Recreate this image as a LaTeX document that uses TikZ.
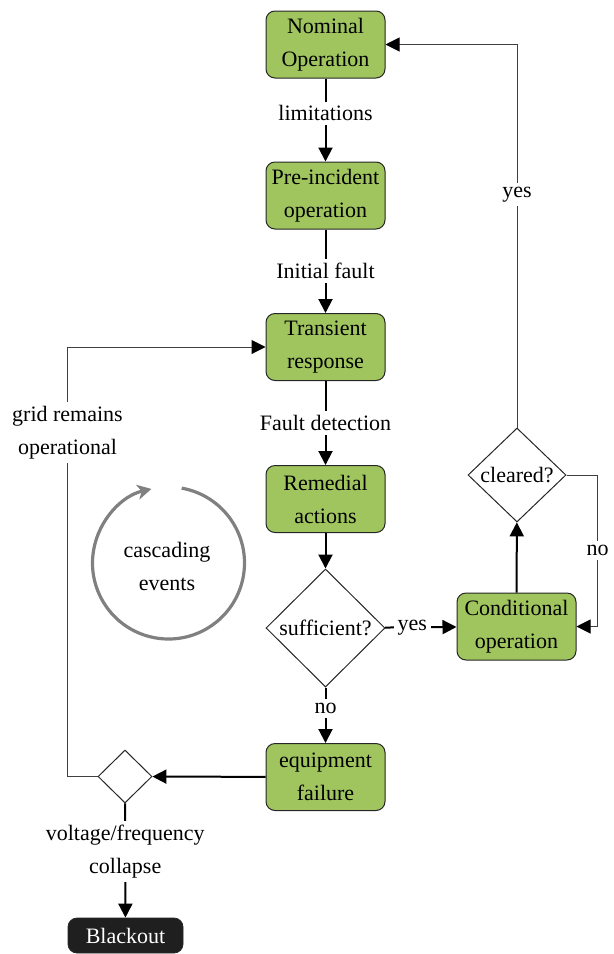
\documentclass[tikz,border=0pt]{standalone}
\usepackage{fontspec}
\setmainfont{LiberationSerif}[Extension=.ttf,UprightFont=*-Regular,BoldFont=*-Bold]
\usetikzlibrary{shapes.geometric,arrows.meta}
\definecolor{boxgreen}{RGB}{160,197,95}
\begin{document}
\begin{tikzpicture}[x=0.5pt,y=0.5pt,
  every node/.style={font=\rmfamily\fontsize{11}{16.5}\selectfont},
  stepbox/.style={draw=black!85,line width=0.5pt,rounded corners=4.5pt,fill=boxgreen,
    minimum width=59.5pt,minimum height=33.5pt,align=center,inner sep=1pt},
  decide/.style={draw=black!85,line width=0.5pt,diamond,shape aspect=1,inner sep=0pt,align=center},
  main/.style={line width=1pt,-{Triangle[length=7pt,width=7pt]}},
  back/.style={line width=0.5pt,draw=black!75,-{Triangle[length=7pt,width=7pt,color=black]}},
  lbl/.style={fill=white,inner sep=2pt,align=center}]
\useasboundingbox (0,0) rectangle (614,-954);
% boxes
\node[stepbox] (nom) at (325.5,-44.5) {Nominal\\Operation};
\node[stepbox] (pre) at (325.5,-195.5) {Pre-incident\\operation};
\node[stepbox] (tra) at (325.5,-347) {Transient\\response};
\node[stepbox] (rem) at (325.5,-499) {Remedial\\actions};
\node[decide,minimum width=59.5pt,minimum height=59pt] (suf) at (325.5,-628) {sufficient?};
\node[stepbox] (equ) at (325.5,-777) {equipment\\failure};
\node[stepbox] (con) at (516.5,-626.5) {Conditional\\operation};
\node[decide,minimum width=49pt,minimum height=47pt] (clr) at (517,-475) {cleared?};
\node[decide,minimum width=27pt,minimum height=26.5pt] (sml) at (125,-776.5) {};
\node[draw=black!85,fill=black!88,text=white,rounded corners=4.5pt,minimum width=57.5pt,
  minimum height=17.5pt,inner sep=1pt] (blk) at (125.5,-935.5) {Blackout};
% cycle
\node[align=center] (cyc) at (167,-566) {cascading\\events};
\coordinate (cc) at (168.5,-563);
\draw[line width=1.6pt,draw=black!50,-{Stealth[length=7pt,width=7.5pt,inset=2pt]}]
  ([shift={(80:38pt)}]cc) arc[start angle=80,end angle=-257,radius=38pt];
% main flow
\draw[main] (nom) -- node[lbl,pos=0.42] {limitations} (pre);
\draw[main] (pre) -- node[lbl] {Initial fault} (tra);
\draw[main] (tra) -- node[lbl] {Fault detection} (rem);
\draw[main] (rem) -- (suf);
\draw[main] (suf) -- node[lbl,pos=0.38] {no} (equ);
\draw[main] (suf) -- node[lbl,pos=0.38] {yes} (con);
\draw[main] (con) -- (clr);
\draw[main] (equ) -- (sml);
\draw[main] (sml) -- node[lbl,pos=0.42] {voltage/frequency\\collapse} (blk);
% feedback
\draw[back] (clr.north) |- node[lbl,pos=0.304] {yes} (nom.east);
\draw[back] (clr.east) -- ++(31,0) |- node[lbl,pos=0.25] {no} (con.east);
\draw[back] (sml.west) -- ++(-30,0) |- node[lbl,pos=0.4] {grid remains\\operational} (tra.west);
\end{tikzpicture}
\end{document}
